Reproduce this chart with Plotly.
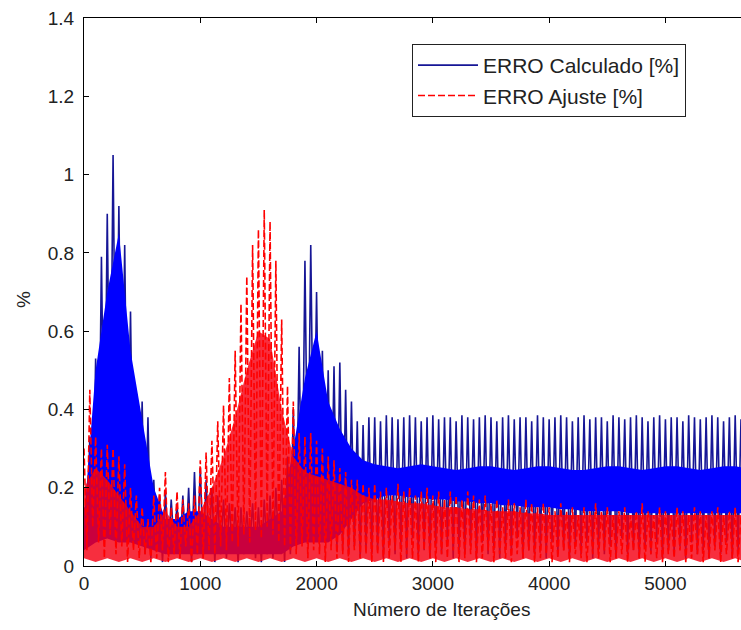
import plotly.graph_objects as go

# Iteration grids: spike samples every 50 iterations, dense-band envelopes every 100
iter_picos = list(range(0, 5701, 50))
iter_faixa = list(range(0, 5701, 100))

# ERRO Calculado [%] - spike tops and spike bottoms (bottom sits 25 iterations after each top)
calc_pico = [
    0.15, 0.33, 0.53, 0.79, 0.90, 1.05, 0.92, 0.82, 0.65, 0.44,
    0.42, 0.38, 0.22, 0.18, 0.19, 0.17, 0.16, 0.18, 0.20, 0.24,
    0.25, 0.22, 0.20, 0.18, 0.17, 0.16, 0.15, 0.15, 0.14, 0.16,
    0.15, 0.17, 0.18, 0.20, 0.22, 0.28, 0.40, 0.56, 0.78, 0.82,
    0.70, 0.55, 0.50, 0.51, 0.52, 0.45, 0.42, 0.37, 0.36, 0.38,
    0.38, 0.37, 0.385, 0.38, 0.375, 0.38, 0.385, 0.38, 0.37, 0.38,
    0.385, 0.375, 0.38, 0.38, 0.37, 0.385, 0.38, 0.375, 0.38, 0.385,
    0.38, 0.37, 0.38, 0.385, 0.375, 0.38, 0.38, 0.37, 0.385, 0.38,
    0.375, 0.38, 0.385, 0.38, 0.37, 0.38, 0.385, 0.375, 0.38, 0.38,
    0.37, 0.385, 0.38, 0.375, 0.38, 0.385, 0.38, 0.37, 0.38, 0.385,
    0.375, 0.38, 0.38, 0.37, 0.385, 0.38, 0.375, 0.38, 0.385, 0.38,
    0.37, 0.38, 0.385, 0.375, 0.38,
]
calc_vale = [
    0.05, 0.08, 0.12, 0.20, 0.25, 0.30, 0.22, 0.15, 0.10, 0.06,
    0.03, 0.02, 0.04, 0.01, 0.03, 0.05, 0.02, 0.04, 0.01, 0.03,
    0.02, 0.05, 0.01, 0.03, 0.02, 0.04, 0.01, 0.03, 0.05, 0.02,
    0.01, 0.03, 0.02, 0.04, 0.01, 0.03, 0.06, 0.10, 0.15, 0.20,
    0.16, 0.10, 0.08, 0.05, 0.04, 0.03, 0.05, 0.02, 0.04, 0.03,
    0.04, 0.02, 0.06, 0.03, 0.05, 0.02, 0.07, 0.03, 0.04, 0.02,
    0.05, 0.03, 0.06, 0.02, 0.04, 0.03, 0.05, 0.02, 0.06, 0.03,
    0.04, 0.02, 0.05, 0.03, 0.07, 0.02, 0.04, 0.03, 0.05, 0.02,
    0.06, 0.03, 0.04, 0.02, 0.05, 0.03, 0.06, 0.02, 0.04, 0.03,
    0.05, 0.02, 0.07, 0.03, 0.04, 0.02, 0.05, 0.03, 0.06, 0.02,
    0.04, 0.03, 0.05, 0.02, 0.06, 0.03, 0.04, 0.02, 0.05, 0.03,
    0.06, 0.02, 0.04, 0.03, 0.05,
]
# Dense oscillation band of ERRO Calculado (upper / lower envelope)
calc_faixa_sup = [
    0.12, 0.50, 0.70, 0.85, 0.55, 0.38, 0.20, 0.12, 0.12, 0.14,
    0.14, 0.12, 0.10, 0.10, 0.10, 0.10, 0.12, 0.14, 0.30, 0.48,
    0.60, 0.42, 0.35, 0.30, 0.27, 0.26, 0.255, 0.25, 0.255, 0.26,
    0.255, 0.25, 0.245, 0.25, 0.255, 0.255, 0.25, 0.245, 0.25, 0.255,
    0.255, 0.25, 0.245, 0.245, 0.25, 0.255, 0.255, 0.25, 0.245, 0.25,
    0.255, 0.255, 0.25, 0.245, 0.25, 0.255, 0.255, 0.25,
]
calc_faixa_inf = [
    0.04, 0.06, 0.07, 0.06, 0.06, 0.05, 0.04, 0.03, 0.03, 0.03,
    0.03, 0.03, 0.03, 0.03, 0.03, 0.03, 0.03, 0.03, 0.05, 0.06,
    0.06, 0.06, 0.08, 0.12, 0.16, 0.17, 0.18, 0.18, 0.175, 0.175,
    0.17, 0.17, 0.165, 0.165, 0.16, 0.16, 0.155, 0.155, 0.15, 0.15,
    0.15, 0.145, 0.145, 0.14, 0.14, 0.14, 0.14, 0.135, 0.135, 0.135,
    0.135, 0.135, 0.135, 0.135, 0.135, 0.135, 0.135, 0.135,
]

# ERRO Ajuste [%] - spike tops and bottoms
ajuste_pico = [
    0.30, 0.45, 0.33, 0.30, 0.31, 0.30, 0.28, 0.26, 0.20, 0.18,
    0.15, 0.12, 0.18, 0.20, 0.24, 0.15, 0.19, 0.17, 0.16, 0.18,
    0.27, 0.29, 0.32, 0.37, 0.41, 0.48, 0.55, 0.67, 0.74, 0.82,
    0.86, 0.91, 0.88, 0.78, 0.63, 0.46, 0.42, 0.34, 0.33, 0.34,
    0.32, 0.30, 0.28, 0.27, 0.25, 0.24, 0.22, 0.22, 0.21, 0.20,
    0.21, 0.19, 0.20, 0.18, 0.21, 0.19, 0.20, 0.18, 0.19, 0.20,
    0.18, 0.19, 0.17, 0.19, 0.18, 0.17, 0.19, 0.18, 0.17, 0.18,
    0.16, 0.17, 0.15, 0.17, 0.16, 0.15, 0.17, 0.16, 0.15, 0.16,
    0.15, 0.14, 0.16, 0.14, 0.15, 0.13, 0.15, 0.14, 0.16, 0.14,
    0.15, 0.13, 0.14, 0.15, 0.13, 0.14, 0.16, 0.14, 0.13, 0.15,
    0.14, 0.13, 0.15, 0.14, 0.13, 0.15, 0.14, 0.13, 0.14, 0.15,
    0.13, 0.14, 0.15, 0.13, 0.14,
]
ajuste_vale = [
    0.04, 0.10, 0.06, 0.02, 0.08, 0.03, 0.05, 0.01, 0.04, 0.02,
    0.03, 0.01, 0.02, 0.04, 0.01, 0.03, 0.02, 0.05, 0.01, 0.03,
    0.02, 0.04, 0.03, 0.05, 0.04, 0.06, 0.05, 0.08, 0.06, 0.09,
    0.07, 0.10, 0.08, 0.06, 0.05, 0.04, 0.03, 0.05, 0.02, 0.04,
    0.03, 0.01, 0.04, 0.02, 0.03, 0.01, 0.04, 0.02, 0.03, 0.01,
    0.03, 0.01, 0.02, 0.04, 0.01, 0.03, 0.02, 0.01, 0.04, 0.02,
    0.01, 0.03, 0.02, 0.04, 0.01, 0.02, 0.03, 0.01, 0.02, 0.04,
    0.01, 0.03, 0.02, 0.01, 0.03, 0.02, 0.04, 0.01, 0.02, 0.03,
    0.01, 0.02, 0.04, 0.01, 0.03, 0.02, 0.01, 0.03, 0.02, 0.04,
    0.01, 0.02, 0.03, 0.01, 0.04, 0.02, 0.01, 0.03, 0.02, 0.01,
    0.03, 0.02, 0.04, 0.01, 0.02, 0.03, 0.01, 0.02, 0.04, 0.01,
    0.03, 0.02, 0.01, 0.03, 0.02,
]
ajuste_faixa_sup = [
    0.20, 0.25, 0.22, 0.18, 0.14, 0.10, 0.10, 0.14, 0.10, 0.10,
    0.14, 0.20, 0.28, 0.38, 0.50, 0.60, 0.58, 0.40, 0.28, 0.24,
    0.23, 0.22, 0.21, 0.20, 0.18, 0.17, 0.17, 0.165, 0.16, 0.16,
    0.155, 0.15, 0.15, 0.145, 0.145, 0.14, 0.14, 0.14, 0.135, 0.135,
    0.13, 0.13, 0.13, 0.13, 0.13, 0.13, 0.13, 0.13, 0.13, 0.13,
    0.13, 0.13, 0.13, 0.13, 0.13, 0.13, 0.13, 0.13,
]
ajuste_faixa_inf = [
    0.02, 0.01, 0.02, 0.01, 0.02, 0.01, 0.02, 0.01, 0.02, 0.01,
    0.02, 0.01, 0.02, 0.01, 0.02, 0.01, 0.02, 0.01, 0.02, 0.01,
    0.02, 0.01, 0.02, 0.01, 0.02, 0.01, 0.02, 0.01, 0.02, 0.01,
    0.02, 0.01, 0.02, 0.01, 0.02, 0.01, 0.02, 0.01, 0.02, 0.01,
    0.02, 0.01, 0.02, 0.01, 0.02, 0.01, 0.02, 0.01, 0.02, 0.01,
    0.02, 0.01, 0.02, 0.01, 0.02, 0.01, 0.02, 0.01,
]

x_ticks = [0, 1000, 2000, 3000, 4000, 5000]
y_ticks = [0, 0.2, 0.4, 0.6, 0.8, 1.0, 1.2, 1.4]
y_tick_text = ["0", "0.2", "0.4", "0.6", "0.8", "1", "1.2", "1.4"]

AZUL = "rgb(0,0,255)"
AZUL_ESCURO = "rgb(22,22,150)"
VERMELHO = "rgb(255,0,0)"
FONTE = "Liberation Sans, Arial, sans-serif"
COR_TEXTO = "#222222"


def zigue_zague(xs, topos, fundos, meio=25):
    """Interleave spike tops and bottoms into a single polyline."""
    px, py = [], []
    for x, t, b in zip(xs, topos, fundos):
        px += [x, x + meio]
        py += [t, b]
    return px, py


fig = go.Figure()

cx, cy = zigue_zague(iter_picos, calc_pico, calc_vale)
fig.add_trace(go.Scatter(x=cx, y=cy, mode="lines", name="ERRO Calculado [%]",
                         line=dict(color=AZUL_ESCURO, width=1.6)))
fig.add_trace(go.Scatter(x=iter_faixa, y=calc_faixa_inf, mode="lines",
                         line=dict(width=0), showlegend=False, hoverinfo="skip"))
fig.add_trace(go.Scatter(x=iter_faixa, y=calc_faixa_sup, mode="lines", fill="tonexty",
                         fillcolor=AZUL, line=dict(width=0), showlegend=False,
                         hoverinfo="skip"))

fig.add_trace(go.Scatter(x=iter_faixa, y=ajuste_faixa_inf, mode="lines",
                         line=dict(width=0), showlegend=False, hoverinfo="skip"))
fig.add_trace(go.Scatter(x=iter_faixa, y=ajuste_faixa_sup, mode="lines", fill="tonexty",
                         fillcolor="rgba(245,0,20,0.82)", line=dict(width=0),
                         showlegend=False, hoverinfo="skip"))
ax, ay = zigue_zague(iter_picos, ajuste_pico, ajuste_vale)
fig.add_trace(go.Scatter(x=ax, y=ay, mode="lines", name="ERRO Ajuste [%]",
                         line=dict(color=VERMELHO, width=1.6, dash="7px,3px")))

fig.update_layout(
    width=741, height=630,
    margin=dict(l=84, r=0, t=18, b=64),
    plot_bgcolor="white", paper_bgcolor="white",
    font=dict(family=FONTE, size=19, color=COR_TEXTO),
    showlegend=True,
    legend=dict(
        x=(412 - 84) / 657, y=(566 - 44) / 548, xanchor="left", yanchor="top",
        bgcolor="white", bordercolor="#222222", borderwidth=1,
        font=dict(family=FONTE, size=21, color=COR_TEXTO),
        traceorder="normal", tracegroupgap=0, itemwidth=60,
    ),
    xaxis=dict(
        range=[0, 5650], tickvals=x_ticks, ticktext=[str(v) for v in x_ticks],
        showgrid=False, zeroline=False, showline=True, linecolor="black", linewidth=1,
        ticks="inside", ticklen=5, tickcolor="black", mirror="ticks",
        ticklabelstandoff=0,
    ),
    yaxis=dict(
        range=[0, 1.4], tickvals=y_ticks, ticktext=y_tick_text,
        showgrid=False, zeroline=False, showline=True, linecolor="black", linewidth=1,
        ticks="inside", ticklen=5, tickcolor="black",
        ticklabelstandoff=5,
    ),
    annotations=[
        dict(text="Número de Iterações", xref="paper", yref="paper",
             x=(441 - 84) / 657, y=-(609 - 566) / 548, xanchor="center", yanchor="middle",
             showarrow=False, font=dict(family=FONTE, size=19, color=COR_TEXTO)),
        dict(text="%", xref="paper", yref="paper",
             x=-(84 - 23) / 657, y=(566 - 300) / 548, xanchor="center", yanchor="middle",
             textangle=-90, showarrow=False,
             font=dict(family=FONTE, size=19, color=COR_TEXTO)),
    ],
)

fig.write_html("out.html")
